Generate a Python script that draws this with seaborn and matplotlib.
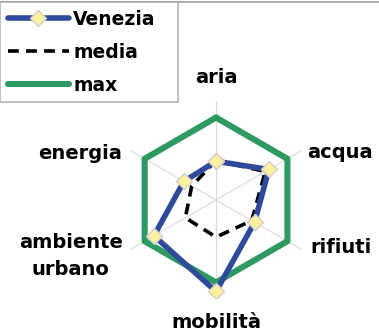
import numpy as np
import pandas as pd
import matplotlib.pyplot as plt
import seaborn as sns
from matplotlib.lines import Line2D

# Valori (max = 1)
categorie = ["aria", "acqua", "rifiuti", "mobilità", "ambiente\nurbano", "energia"]
venezia = [0.47, 0.74, 0.54, 1.11, 0.87, 0.45]
media = [0.48, 0.69, 0.50, 0.45, 0.43, 0.34]
massimo = [1.0, 1.0, 1.0, 1.0, 1.0, 1.0]

# posizione delle etichette (angolo in gradi, raggio)
label_pos = [(0, 1.48), (69, 1.61), (111, 1.62), (180, 1.49), (249, 1.89), (289, 1.74)]

sns.set_theme(style="white")
plt.rcParams["font.family"] = ["DejaVu Sans"]
plt.rcParams["text.color"] = "black"

n = len(categorie)
theta = np.linspace(0, 2 * np.pi, n, endpoint=False)
theta_c = np.append(theta, 2 * np.pi)

def chiudi(v):
    return np.append(v, v[0])

df = pd.DataFrame({
    "theta": np.tile(theta_c, 3),
    "valore": np.concatenate([chiudi(venezia), chiudi(media), chiudi(massimo)]),
    "serie": np.repeat(["Venezia", "media", "max"], n + 1),
})

fig = plt.figure(figsize=(3.79, 3.35), dpi=100)
ax = fig.add_axes([0.309, 0.1075, 0.522, 0.591], projection="polar")
ax.set_theta_offset(np.pi / 2)
ax.set_theta_direction(-1)

blu = "#2F4A9B"
verde = "#2E9A63"

sns.lineplot(data=df[df.serie == "max"], x="theta", y="valore", sort=False,
             estimator=None, units="serie",
             color=verde, lw=4.4, ax=ax, label="max")
sns.lineplot(data=df[df.serie == "media"], x="theta", y="valore", sort=False,
             estimator=None, units="serie",
             color="black", lw=2.6, ax=ax, label="media")
ax.lines[-1].set_dashes([3, 2])
sns.lineplot(data=df[df.serie == "Venezia"], x="theta", y="valore", sort=False,
             estimator=None, units="serie",
             color=blu, lw=4.0, ax=ax, label="Venezia",
             marker="D", markersize=8, markerfacecolor="#FFF0A0",
             markeredgecolor="#CFCFCF", markeredgewidth=1)

ax.set_ylim(0, 1.2)
ax.set_xlim(0, 2 * np.pi)
ax.set_xticks(theta)
ax.set_xticklabels([])
ax.set_yticks([])
ax.set_xlabel("")
ax.set_ylabel("")
ax.spines["polar"].set_visible(False)
ax.xaxis.grid(True, color="#DADADA", lw=0.8)

for cat, (ang, r) in zip(categorie, label_pos):
    ax.text(np.deg2rad(ang), r, cat, ha="center", va="center",
            fontsize=14, fontweight="bold", color="black", linespacing=1.5)

handles, labels = ax.get_legend_handles_labels()
ordine = [labels.index(l) for l in ["Venezia", "media", "max"]]
if ax.get_legend():
    ax.get_legend().remove()
leg = fig.legend([handles[i] for i in ordine], [labels[i] for i in ordine],
                 loc="upper left", bbox_to_anchor=(0.0, 0.0, 0.47, 0.993),
                 bbox_transform=fig.transFigure, borderaxespad=0, mode="expand",
                 frameon=True, fancybox=False, edgecolor="#A0A0A0",
                 handlelength=3.3, handletextpad=0.2, labelspacing=0.75,
                 borderpad=0.4, numpoints=1,
                 prop={"size": 13.5, "weight": "bold"})
leg.get_frame().set_linewidth(1.2)
for t in leg.get_texts():
    t.set_color("black")

# bordo superiore dell'area del grafico
fig.add_artist(Line2D([0, 1], [0.993, 0.993], transform=fig.transFigure,
                      color="#A0A0A0", lw=1.2))

fig.savefig("out.png", dpi=100)
